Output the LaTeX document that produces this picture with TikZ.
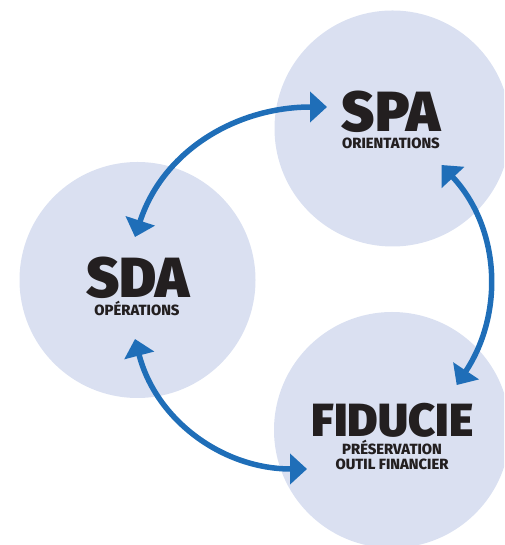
\documentclass[tikz,border=0pt]{standalone}
\usepackage{fontspec}
\setmainfont{Fira Sans}
\newfontfamily\heavyfont{Fira Sans Black}
\newfontfamily\xboldfont{Fira Sans ExtraBold}
\usetikzlibrary{arrows.meta}
\definecolor{circfill}{RGB}{218,224,241}
\definecolor{arrblue}{RGB}{31,110,184}
\definecolor{txtdark}{RGB}{35,31,32}
\tikzset{
  bubble/.style={circle, fill=circfill, minimum size=236pt, inner sep=0pt},
  bigtitle/.style={anchor=base, inner sep=0pt, text depth=0pt, text=txtdark, font=\heavyfont\fontsize{56.6}{60}\selectfont},
  midtitle/.style={anchor=base, inner sep=0pt, text depth=0pt, text=txtdark, font=\heavyfont\fontsize{46.5}{50}\selectfont},
  subtitle/.style={anchor=base, inner sep=0pt, text depth=0pt, text=txtdark, font=\xboldfont\fontsize{14.8}{15}\selectfont},
  link/.style={draw=arrblue, line width=5.5pt,
    {Triangle[length=17pt,width=30pt]}-{Triangle[length=17pt,width=30pt]}}
}
\begin{document}
\begin{tikzpicture}[x=1pt,y=1pt]
\useasboundingbox (0,0) rectangle (504,545);
\begin{scope}
\clip (0,0) rectangle (504,545);
\node[bubble] (spa) at (392.5,416.5) {};
\node[bubble] (sda) at (137.5,265) {};
\node[bubble] (fid) at (392,115) {};
\end{scope}
% texts
\node[bigtitle] (spat) at (391,413) {SPA};
\node[subtitle] (spas) at (391,396) {ORIENTATIONS};
\node[bigtitle] (sdat) at (138,247) {SDA};
\node[subtitle] (sdas) at (137,229) {OPÉRATIONS};
\node[midtitle] (fidt) at (392.5,108) {FIDUCIE};
\node[subtitle] (fids1) at (392,90) {PRÉSERVATION};
\node[subtitle] (fids2) at (392,75) {OUTIL FINANCIER};
% arrow end points
\coordinate (a1s) at (135,308);
\coordinate (a1e) at (327,438);
\coordinate (a2s) at (441.5,380);
\coordinate (a2e) at (456.7,160);
\coordinate (a3s) at (135,206);
\coordinate (a3e) at (307,76);
\draw[link] (a1s) to[out=72,in=180] (a1e);
\draw[link] (a2s) to[out=-47,in=56.5] (a2e);
\draw[link] (a3s) to[out=-75.5,in=180] (a3e);
\end{tikzpicture}
\end{document}
